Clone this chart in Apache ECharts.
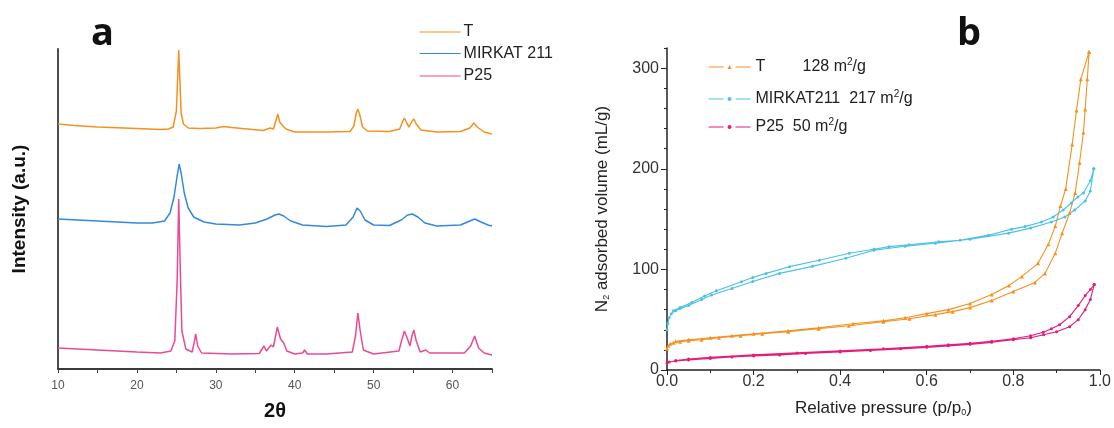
<!DOCTYPE html>
<html>
<head>
<meta charset="UTF-8">
<title>XRD and N2 isotherms</title>
<style>
  html, body { margin: 0; padding: 0; background: #fff; }
  #chart { width: 1114px; height: 428px; }
</style>
<script src="https://cdn.jsdelivr.net/npm/echarts@6/dist/echarts.min.js"></script>
</head>
<body>
<div id="chart"></div>
<script>
// ---- panel a: XRD patterns (2theta, intensity in a.u., offset stacked) ----
var xrdT = [
  [10,245],[12,243.5],[15,242],[20,240.5],[23,239.5],[24,240],[24.6,242],[25.0,258],[25.15,288],
  [25.3,319],[25.45,288],[25.6,256],[25.9,245],[26.5,241],[28,240.5],[30,241],[31,242.5],[32,241.5],
  [34,240],[36,238.5],[36.9,241],[37.3,240],[37.6,248],[37.85,255],[38.1,247],[38.5,243],[38.9,240],
  [40,237],[44,237],[47,237.5],[47.5,243],[47.8,256],[48.0,260],[48.25,254],[48.6,242],[49.2,238],
  [52,237.5],[53.3,240],[53.7,248],[53.9,251],[54.2,246],[54.5,242],[54.8,247],[55.1,250],[55.4,245],
  [56,239],[58,237],[61,237.5],[62.2,241],[62.7,246],[63.2,241.5],[64,237],[65,235]
];
var xrdMirkat = [
  [10,150],[15,148],[20,146],[22,146],[23.5,148],[24.2,156],[24.7,172],[25.1,193],[25.35,205],
  [25.6,196],[26.0,176],[26.5,161],[27.2,152],[28.5,147],[30,145],[33,144],[35,146],[36.5,150],
  [37.5,154],[38.0,155],[38.6,153],[39.5,148],[41,144],[44,142.5],[46.5,144],[47.4,152],[47.9,161],
  [48.3,158],[48.9,149],[50,144],[52,143.5],[53.5,149],[54.3,154],[54.9,155],[55.6,152],[56.5,146],
  [58,143],[61,144],[62.2,148],[62.8,150],[63.6,147],[64.5,144],[65,143]
];
var xrdP25 = [
  [10,21],[15,19],[20,17],[23,16],[24.3,18],[24.8,28],[25.1,88],[25.3,170],[25.5,98],[25.7,38],
  [26.2,20],[27.0,17],[27.25,26],[27.45,35],[27.7,23],[28.2,16],[32,15],[35.5,15.5],[36.1,23],
  [36.4,18],[37.0,24],[37.3,22],[37.8,42],[38.2,30],[38.6,26],[39.0,18],[40,15],[41.0,16],
  [41.25,19],[41.6,15],[44,15],[47.3,17],[47.7,33],[48.0,56],[48.3,38],[48.7,19],[50,15],
  [53.2,18],[53.6,30],[53.9,38],[54.3,30],[54.6,23],[54.85,33],[55.1,39],[55.4,28],[55.9,17],
  [56.6,19],[57.1,16],[61.5,16],[62.3,23],[62.8,33],[63.3,21],[64,16],[65,14]
];

// ---- panel b: N2 isotherms (p/p0, mL/g), adsorption then desorption ----
var isoTAds = [
  [0,21],[0.003,24],[0.008,26],[0.015,27],[0.03,28],[0.05,29],[0.08,30],[0.12,32],[0.17,34],
  [0.22,36],[0.28,38],[0.35,41],[0.42,44],[0.5,48],[0.56,51],[0.62,55],[0.66,58],[0.7,62],
  [0.75,69],[0.8,78],[0.85,87],[0.873,96],[0.897,116],[0.913,136],[0.93,156],[0.943,176],
  [0.953,206],[0.962,236],[0.966,259],[0.971,289],[0.975,316]
];
var isoTDes = [
  [0.975,316],[0.956,289],[0.946,258],[0.936,224],[0.921,180],[0.909,163],[0.897,143],
  [0.881,125],[0.857,106],[0.82,93],[0.79,84],[0.75,75],[0.7,66],[0.65,60],[0.6,56],[0.55,52],
  [0.5,49],[0.43,46],[0.35,42],[0.28,39],[0.2,36],[0.15,34],[0.1,32],[0.05,30],[0.02,28.5]
];
var isoMirkatAds = [
  [0,40],[0.002,46],[0.005,52],[0.01,56],[0.02,59],[0.03,61],[0.05,64],[0.08,70],[0.103,74.5],
  [0.15,81],[0.198,88],[0.26,96],[0.336,103],[0.413,111],[0.478,119],[0.55,123],[0.62,126],
  [0.7,130],[0.789,136],[0.84,141],[0.888,147],[0.919,152],[0.942,159],[0.966,168],[0.978,178],
  [0.986,200]
];
var isoMirkatDes = [
  [0.986,200],[0.978,188],[0.962,176],[0.949,172],[0.934,166],[0.915,159],[0.892,152],
  [0.865,147],[0.827,142.5],[0.796,140],[0.743,134],[0.677,129],[0.628,127.5],[0.559,124.5],
  [0.513,122.6],[0.478,120],[0.421,116],[0.352,109],[0.283,102.7],[0.229,96],[0.198,92],
  [0.172,87.8],[0.114,78.8],[0.087,73.6],[0.057,67],[0.03,62],[0.015,59]
];
var isoP25Ads = [
  [0,7],[0.005,8],[0.02,9],[0.05,10],[0.1,11.5],[0.15,13],[0.2,14],[0.26,15],[0.32,16.5],
  [0.4,18],[0.47,19.5],[0.54,21],[0.6,22.5],[0.65,24],[0.7,25.5],[0.75,27.5],[0.8,30],[0.84,32],
  [0.87,35],[0.9,38],[0.93,43],[0.95,50],[0.966,60],[0.978,70],[0.987,85]
];
var isoP25Des = [
  [0.987,85],[0.978,80],[0.966,74],[0.95,64],[0.93,53],[0.907,45],[0.888,41],[0.869,37.5],
  [0.84,34],[0.8,31],[0.75,28.5],[0.7,26.5],[0.65,25],[0.6,23.5],[0.5,21],[0.4,19],[0.3,17],
  [0.2,15],[0.1,12.5],[0.05,11],[0.02,9.5]
];

var xrdNames = ['T', 'MIRKAT 211', 'P25'];
var isoNames = ['T BET', 'MIRKAT211 BET', 'P25 BET'];
var isoLabels = {
  'T BET': '{w|T}{t|128 m}{sup|2}{t|/g}',
  'MIRKAT211 BET': '{t|MIRKAT211  217 m}{sup|2}{t|/g}',
  'P25 BET': '{t|P25  50 m}{sup|2}{t|/g}'
};

var FONT = 'Liberation Sans, Arial, sans-serif';
var cOrange = '#f5921f', cBlue = '#3489dd', cPinkA = '#ea4a95';
var cCyan = '#4bc1e8', cPinkB = '#e41c7c';

var chart = echarts.init(document.getElementById('chart'));

function xrdLegend(name, top) {
  return {
    data: [name], left: 419, top: top, padding: 0, itemWidth: 41, itemHeight: 16, itemGap: 0,
    itemStyle: { opacity: 0 },
    lineStyle: { width: 1.2 },
    textStyle: { fontFamily: FONT, fontSize: 16, color: '#222', lineHeight: 16, padding: [0, 0, 0, -2] }
  };
}
function isoLegend(name, top) {
  return {
    data: [name], left: 708, top: top, padding: 0, itemWidth: 42, itemHeight: 5, itemGap: 0,
    lineStyle: { type: [15, 12], width: 1 },
    formatter: function (n) { return isoLabels[n]; },
    textStyle: {
      fontFamily: FONT, fontSize: 16, color: '#222',
      rich: {
        t: { fontFamily: FONT, fontSize: 16, color: '#222', lineHeight: 20 },
        w: { fontFamily: FONT, fontSize: 16, color: '#222', lineHeight: 20, width: 47 },
        sup: { fontFamily: FONT, fontSize: 10, color: '#222', lineHeight: 10, verticalAlign: 'top' }
      }
    }
  };
}

chart.setOption({
  animation: false,
  backgroundColor: '#fff',
  title: [
    { text: 'a', left: 86, top: 10, textStyle: { fontFamily: 'Open Sans, ' + FONT, fontSize: 38, fontWeight: 'bold', color: '#111' } },
    { text: 'b', left: 952, top: 10, textStyle: { fontFamily: 'Open Sans, ' + FONT, fontSize: 38, fontWeight: 'bold', color: '#111' } }
  ],
  legend: [
    xrdLegend(xrdNames[0], 24),
    xrdLegend(xrdNames[1], 45.5),
    xrdLegend(xrdNames[2], 68),
    isoLegend(isoNames[0], 57),
    isoLegend(isoNames[1], 89),
    isoLegend(isoNames[2], 117)
  ],
  grid: [
    { left: 58, top: 49, width: 434, height: 320 },
    { left: 667, top: 48, width: 435, height: 322 }
  ],
  xAxis: [
    {
      gridIndex: 0, type: 'value', min: 10, max: 65, interval: 5,
      name: '2θ', nameLocation: 'middle', nameGap: 32,
      nameTextStyle: { fontFamily: FONT, fontSize: 20, fontWeight: 'bold', color: '#111' },
      axisLine: { lineStyle: { color: '#3a3a3a', width: 1.8 } },
      axisTick: { length: 4, lineStyle: { color: '#444' } },
      axisLabel: {
        fontFamily: FONT, fontSize: 12, color: '#555', margin: 11,
        formatter: function (v) { return v % 10 === 0 ? String(v) : ''; }
      },
      splitLine: { show: false }
    },
    {
      gridIndex: 1, type: 'value', min: 0, max: 1, interval: 0.2,
      name: 'Relative pressure (p/p{sub|0})', nameLocation: 'middle', nameGap: 30,
      nameTextStyle: {
        fontFamily: FONT, fontSize: 17, color: '#222',
        rich: {
          sub: { fontFamily: FONT, fontSize: 9, color: '#222', lineHeight: 9, verticalAlign: 'bottom' }
        }
      },
      axisLine: { lineStyle: { color: '#222', width: 1.5 } },
      axisTick: { length: 5, lineStyle: { color: '#222' } },
      minorTick: { show: true, splitNumber: 2, length: 3, lineStyle: { color: '#222' } },
      axisLabel: {
        fontFamily: FONT, fontSize: 16, color: '#333', margin: 4,
        formatter: function (v) { return v.toFixed(1); }
      },
      splitLine: { show: false }, minorSplitLine: { show: false }
    }
  ],
  yAxis: [
    {
      gridIndex: 0, type: 'value', min: 0, max: 320,
      name: 'Intensity (a.u.)', nameLocation: 'middle', nameGap: 29,
      nameTextStyle: { fontFamily: FONT, fontSize: 19, fontWeight: 'bold', color: '#111' },
      axisLine: { show: true, lineStyle: { color: '#3a3a3a', width: 1.8 } },
      axisTick: { show: false }, axisLabel: { show: false }, splitLine: { show: false }
    },
    {
      gridIndex: 1, type: 'value', min: 0, max: 320, interval: 100, position: 'left',
      name: 'N{sub|2} adsorbed volume (mL/g)', nameLocation: 'middle', nameGap: 56,
      nameTextStyle: {
        fontFamily: FONT, fontSize: 17, color: '#222',
        rich: {
          sub: { fontFamily: FONT, fontSize: 9, color: '#222', lineHeight: 9, verticalAlign: 'bottom' }
        }
      },
      axisLine: { show: true, lineStyle: { color: '#222', width: 1.5 } },
      axisTick: { length: 6, customValues: [0, 100, 200, 300], lineStyle: { color: '#222' } },
      axisLabel: { fontFamily: FONT, fontSize: 16, color: '#333', margin: 8, customValues: [0, 100, 200, 300] },
      splitLine: { show: false }
    },
    {
      gridIndex: 1, type: 'value', min: 0, max: 320, interval: 20, position: 'left', offset: 0,
      axisLine: { show: false }, axisLabel: { show: false }, splitLine: { show: false },
      axisTick: { show: true, length: 3, lineStyle: { color: '#222' } }
    }
  ],
  series: [
    { name: xrdNames[0], type: 'line', xAxisIndex: 0, yAxisIndex: 0, data: xrdT, symbol: 'none',
      color: cOrange, lineStyle: { width: 1.5 } },
    { name: xrdNames[1], type: 'line', xAxisIndex: 0, yAxisIndex: 0, data: xrdMirkat, symbol: 'none',
      color: cBlue, lineStyle: { width: 1.5 } },
    { name: xrdNames[2], type: 'line', xAxisIndex: 0, yAxisIndex: 0, data: xrdP25, symbol: 'none',
      color: cPinkA, lineStyle: { width: 1.5 } },
    { name: isoNames[0], type: 'line', xAxisIndex: 1, yAxisIndex: 1, data: isoTAds.concat(isoTDes),
      symbol: 'triangle', symbolSize: 4, color: cOrange, lineStyle: { width: 1.1 } },
    { name: isoNames[1], type: 'line', xAxisIndex: 1, yAxisIndex: 1, data: isoMirkatAds.concat(isoMirkatDes),
      symbol: 'circle', symbolSize: 3, color: cCyan, lineStyle: { width: 1.1 } },
    { name: isoNames[2], type: 'line', xAxisIndex: 1, yAxisIndex: 1, data: isoP25Ads.concat(isoP25Des),
      symbol: 'circle', symbolSize: 3, color: cPinkB, lineStyle: { width: 1.1 } }
  ]
});
</script>
</body>
</html>
